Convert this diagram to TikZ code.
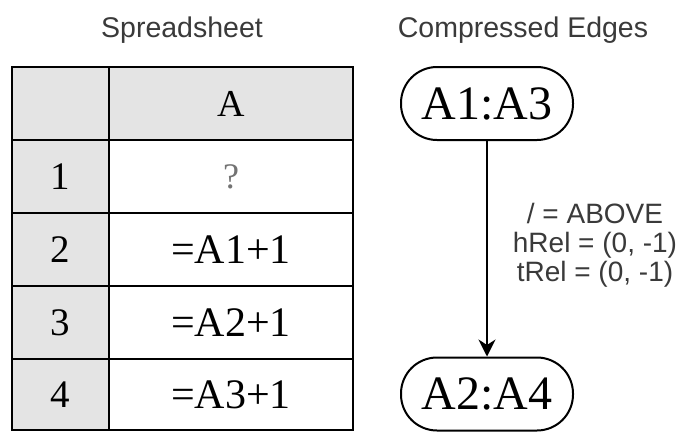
\documentclass[tikz,border=0pt]{standalone}
\usepackage{fontspec}
\setmainfont{Liberation Serif}
\newfontfamily\labelsans{Liberation Sans}
\usetikzlibrary{arrows.meta}
\definecolor{hdrgray}{HTML}{E4E4E4}
\definecolor{titlegray}{HTML}{3A3A3A}
\begin{document}
\begin{tikzpicture}[x=1pt,y=-1pt,
  cellbase/.style={draw=black, line width=2pt, inner sep=0pt, outer sep=0pt, anchor=north west},
  numcell/.style={cellbase, fill=hdrgray, minimum width=97pt, font=\fontsize{39}{42}\selectfont},
  hdrcell/.style={cellbase, fill=hdrgray, minimum width=244pt, font=\fontsize{38}{42}\selectfont},
  valcell/.style={cellbase, fill=white, minimum width=244pt, font=\fontsize{42}{46}\selectfont},
  rangenode/.style={draw=black, line width=2pt, rounded corners=36pt, minimum width=172pt, minimum height=73pt, inner sep=0pt, font=\fontsize{48}{52}\selectfont},
  titletext/.style={font=\labelsans\fontsize{28.5}{32}\selectfont, text=titlegray},
  edgelabel/.style={font=\labelsans\fontsize{28}{29}\selectfont, text=titlegray, align=center}
]
\useasboundingbox (0,0) rectangle (686,432);
\fill[white] (0,0) rectangle (686,432);

% titles
\node[titletext] (t1) at (182,30) {Spreadsheet};
\node[titletext] (t2) at (523,30) {Compressed Edges};

% table
\node[numcell, minimum height=73pt] (h0) at (12,67) {};
\node[hdrcell, minimum height=73pt] (hA) at (109,67) {A};
\node[numcell, minimum height=73pt] (r1) at (12,140) {1};
\node[valcell, minimum height=73pt] (c1) at (109,140) {\textcolor{black!55}{\fontsize{36}{40}\selectfont ?}};
\node[numcell, minimum height=73pt] (r2) at (12,213) {2};
\node[valcell, minimum height=73pt] (c2) at (109,213) {=A1+1};
\node[numcell, minimum height=73pt] (r3) at (12,286) {3};
\node[valcell, minimum height=73pt] (c3) at (109,286) {=A2+1};
\node[numcell, minimum height=71pt] (r4) at (12,359) {4};
\node[valcell, minimum height=71pt] (c4) at (109,359) {=A3+1};

% compressed edges
\node[rangenode] (n1) at (487,103.5) {A1:A3};
\node[rangenode] (n2) at (487,394) {A2:A4};
\draw[line width=2pt, -{Stealth[length=17pt,width=17pt]}] (n1) -- (n2);
\node[edgelabel] (lbl) at (595,245) {/ = ABOVE\\hRel = (0, -1)\\tRel = (0, -1)};
\end{tikzpicture}
\end{document}
